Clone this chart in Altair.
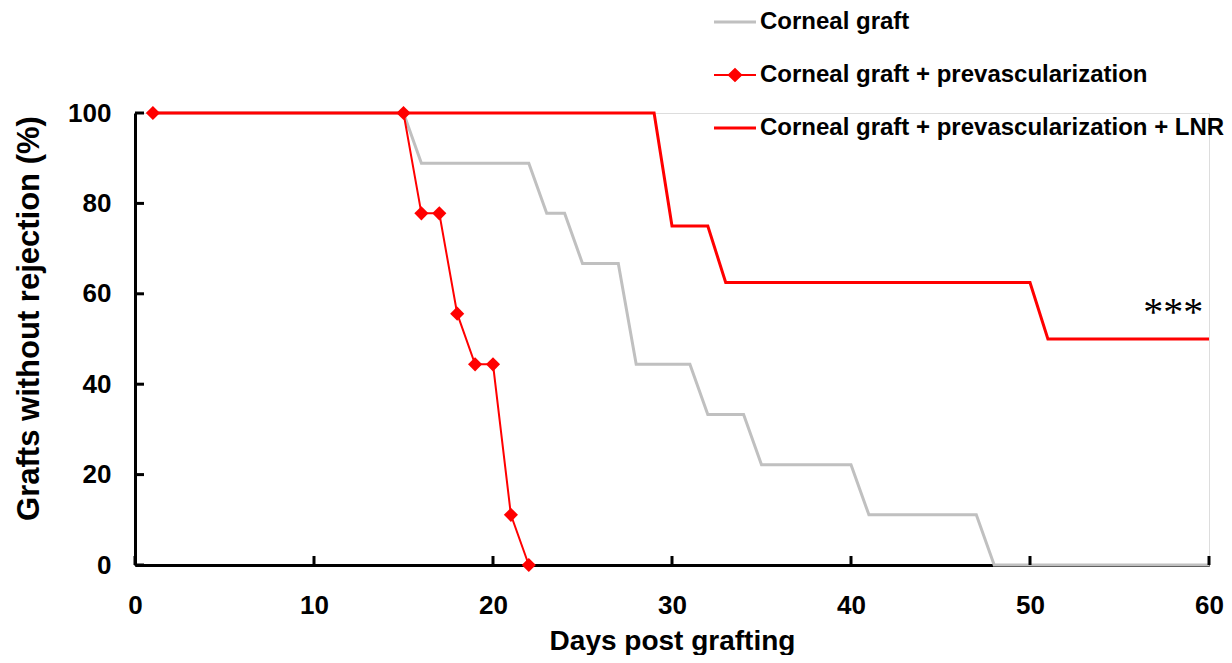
import altair as alt
import pandas as pd

# ---- data ----
gray_days = [1, 15, 16, 22, 23, 24, 25, 27, 28, 31, 32, 34, 35, 40, 41, 47, 48, 60]
gray_pct = [100, 100, 88.9, 88.9, 77.8, 77.8, 66.7, 66.7, 44.4, 44.4, 33.3, 33.3,
            22.2, 22.2, 11.1, 11.1, 0, 0]
prevasc_days = [1, 15, 16, 17, 18, 19, 20, 21, 22]
prevasc_pct = [100, 100, 77.8, 77.8, 55.6, 44.4, 44.4, 11.1, 0]
lnr_days = [1, 29, 30, 32, 33, 50, 51, 60]
lnr_pct = [100, 100, 75, 75, 62.5, 62.5, 50, 50]

series_names = ["Corneal graft",
                "Corneal graft + prevascularization",
                "Corneal graft + prevascularization + LNR"]
series_colors = ["#C0C0C0", "#FF0000", "#FF0000"]

x_ticks = [0, 10, 20, 30, 40, 50, 60]
y_ticks = [0, 20, 40, 60, 80, 100]

sig_text = ["***"]
sig_day = [58]
sig_pct = [53]

# ---- layout ----
W, H = 1074, 452
FONT = "Liberation Sans"

gray_df = pd.DataFrame({"day": gray_days, "pct": gray_pct})
prev_df = pd.DataFrame({"day": prevasc_days, "pct": prevasc_pct})
lnr_df = pd.DataFrame({"day": lnr_days, "pct": lnr_pct})
xt_df = pd.DataFrame({"t": x_ticks})
yt_df = pd.DataFrame({"t": y_ticks})
sig_df = pd.DataFrame({"day": sig_day, "pct": sig_pct, "txt": sig_text})
leg_df = pd.DataFrame({"series": series_names})

xscale = alt.Scale(domain=[0, 60], nice=False)
yscale = alt.Scale(domain=[0, 100], nice=False)

xaxis = alt.Axis(values=x_ticks, ticks=False, tickSize=0, grid=False,
                 domainColor="black", domainWidth=3,
                 labelFont=FONT, labelFontSize=26, labelFontWeight="bold",
                 labelColor="black", labelPadding=27, labelFlush=False,
                 title="Days post grafting", titleFont=FONT, titleFontSize=28,
                 titleFontWeight="bold", titleColor="black",
                 titleX=537, titleY=84, titleBaseline="alphabetic")
yaxis = alt.Axis(values=y_ticks, ticks=False, tickSize=0, grid=False,
                 domainColor="black", domainWidth=3,
                 labelFont=FONT, labelFontSize=26, labelFontWeight="bold",
                 labelColor="black", labelPadding=24, labelFlush=False,
                 title="Grafts without rejection (%)", titleFont=FONT,
                 titleFontSize=31, titleFontWeight="bold", titleColor="black",
                 titleX=-106, titleY=205, titleAngle=270, titleBaseline="middle")

X = alt.X("day:Q", scale=xscale, axis=xaxis)
Y = alt.Y("pct:Q", scale=yscale, axis=yaxis)

gray_line = alt.Chart(gray_df).mark_line(color="#C0C0C0", strokeWidth=3).encode(x=X, y=Y)
lnr_line = alt.Chart(lnr_df).mark_line(color="#FF0000", strokeWidth=3).encode(x="day:Q", y="pct:Q")
prev_line = alt.Chart(prev_df).mark_line(color="#FF0000", strokeWidth=2).encode(x="day:Q", y="pct:Q")
prev_pts = alt.Chart(prev_df).mark_point(shape="diamond", filled=True, size=200,
                                         color="#FF0000", opacity=1,
                                         strokeWidth=0).encode(x="day:Q", y="pct:Q")

xticks = alt.Chart(xt_df).mark_rule(color="black", strokeWidth=3).encode(
    x=alt.X("t:Q"), y=alt.value(H), y2=alt.value(H - 9))
yticks = alt.Chart(yt_df).mark_rule(color="black", strokeWidth=3).encode(
    y=alt.Y("t:Q"), x=alt.value(0), x2=alt.value(9))

sig = alt.Chart(sig_df).mark_text(font="Liberation Serif", fontSize=40,
                                  align="center", baseline="alphabetic",
                                  color="black").encode(x="day:Q", y="pct:Q", text="txt:N")

line_path = "M-1,-0.075L1,-0.075L1,0.075L-1,0.075Z"
diamond_path = ("M-1,-0.05L1,-0.05L1,0.05L-1,0.05Z "
                "M0,-0.34L0.36,0L0,0.34L-0.36,0Z")
leg = alt.Legend(title=None, orient="none", legendX=579, legendY=-112,
                 padding=0, offset=0, direction="vertical",
                 labelFont=FONT, labelFontSize=24, labelFontWeight="bold",
                 labelColor="black", labelLimit=900, labelOffset=4,
                 rowPadding=20, symbolSize=1764, symbolStrokeWidth=0)
legend_layer = alt.Chart(leg_df).mark_point(filled=True, size=1764, opacity=1,
                                            strokeWidth=0).encode(
    color=alt.Color("series:N", scale=alt.Scale(domain=series_names, range=series_colors), legend=leg),
    shape=alt.Shape("series:N", scale=alt.Scale(domain=series_names,
                                                range=[line_path, diamond_path, line_path]), legend=leg),
).transform_filter("false")

chart = alt.layer(gray_line, lnr_line, prev_line, prev_pts, xticks, yticks, sig, legend_layer).properties(
    width=W, height=H,
    padding={"left": 127, "top": 105, "right": 15, "bottom": 90},
    autosize=alt.AutoSizeParams(type="none"),
).configure_view(stroke=None).configure(background="white")

chart.save("out.html", embed_options={"renderer": "svg", "actions": False})
